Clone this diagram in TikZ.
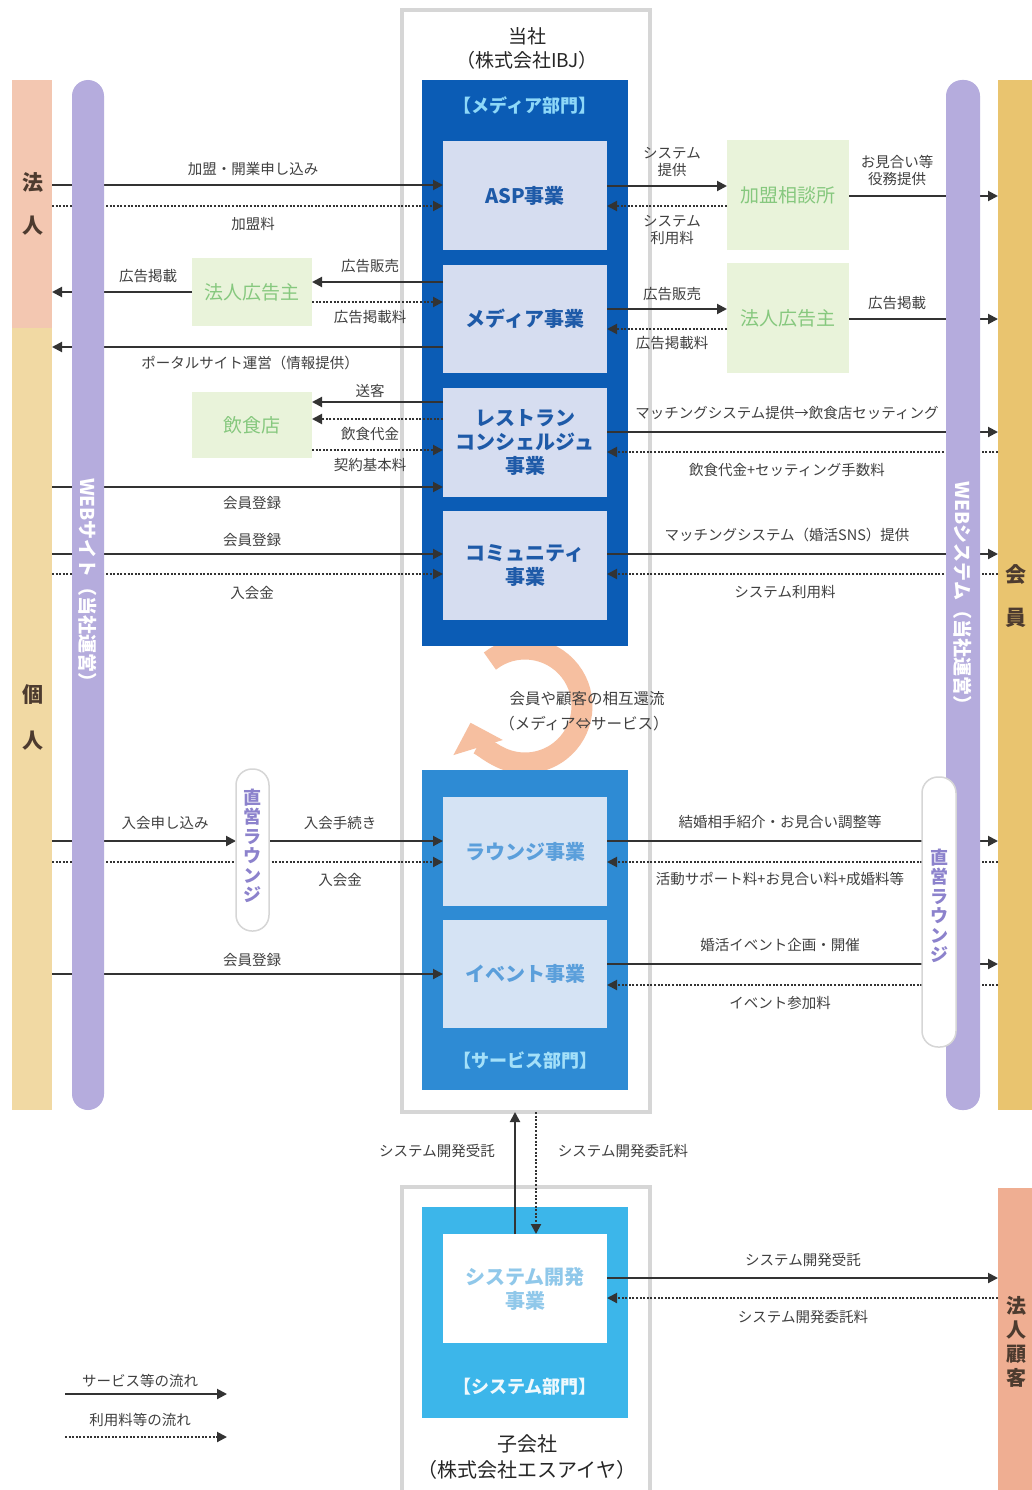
\documentclass[tikz,border=0pt]{standalone}
\usepackage{fontspec}
\setmainfont{Noto Sans CJK JP}
\usetikzlibrary{arrows.meta}
\definecolor{labc}{HTML}{404040}
\definecolor{linec}{HTML}{333333}
\definecolor{grayc}{HTML}{D6D6D6}
\definecolor{hojinc}{HTML}{F3C7B1}
\definecolor{kojinc}{HTML}{F1D9A3}
\definecolor{kaiinc}{HTML}{E9C46F}
\definecolor{kokyakuc}{HTML}{EFAE92}
\definecolor{lavc}{HTML}{B5ACDD}
\definecolor{mediac}{HTML}{0B5CB5}
\definecolor{innerc}{HTML}{D6DDF0}
\definecolor{innertxt}{HTML}{1E5AA8}
\definecolor{servc}{HTML}{2E8BD4}
\definecolor{innerc2}{HTML}{D5E3F4}
\definecolor{innertxt2}{HTML}{5B9FDB}
\definecolor{sysc}{HTML}{3CB6EA}
\definecolor{systxt}{HTML}{90C8EA}
\definecolor{greenbg}{HTML}{E9F3DA}
\definecolor{greentxt}{HTML}{86C87E}
\definecolor{ringc}{HTML}{F6BFA0}
\definecolor{deptlbl}{HTML}{8ED8F8}
\definecolor{pilltxt}{HTML}{8C82CC}
\definecolor{bandtxt}{HTML}{4D3B2F}
\pgfdeclarelayer{bg}
\pgfdeclarelayer{lines}
\pgfsetlayers{bg,lines,main}
\tikzset{
  lbl/.style={text=labc, font=\fontsize{14.5}{17}\selectfont, inner sep=0pt, align=center},
  flow/.style={draw=linec, line width=2pt, -{Triangle[length=10pt,width=10pt]}},
  fee/.style={flow, dash pattern=on 2pt off 1.6pt},
  plainbox/.style={rectangle, inner sep=0pt, outer sep=0pt},
  graybox/.style={plainbox, draw=grayc, line width=3.5pt, fill=white},
  innerbox/.style={plainbox, fill=innerc, text=innertxt, font=\fontsize{20}{24}\selectfont\bfseries, align=center},
  innerbox2/.style={plainbox, fill=innerc2, text=innertxt2, font=\fontsize{20}{24}\selectfont\bfseries, align=center},
  greenbox/.style={plainbox, fill=greenbg, text=greentxt, font=\fontsize{19}{22}\selectfont},
  deptlabel/.style={inner sep=0pt, font=\fontsize{18}{20}\selectfont\bfseries},
  bandchar/.style={inner sep=0pt, text=bandtxt, font=\fontsize{21}{24}\selectfont\bfseries},
  webbar/.style={plainbox, fill=lavc, rounded corners=16pt},
  webtxt/.style={inner sep=0pt, text=white, font=\fontsize{19}{20}\selectfont\bfseries, rotate=-90},
  pill/.style={plainbox, fill=white, draw=grayc, line width=1.5pt, rounded corners=16pt},
  pilltext/.style={inner sep=0pt, text=pilltxt, font=\fontsize{18}{19.5}\selectfont\bfseries, align=center},
  titletxt/.style={inner sep=0pt, text=black!85, font=\fontsize{19}{22}\selectfont}
}
\begin{document}
\begin{tikzpicture}[x=1pt,y=-1pt]
\useasboundingbox (0,0) rectangle (1032,1490);
\begin{pgfonlayer}{bg}
\fill[white] (0,0) rectangle (1032,1490);
% outer company boxes
\node[graybox, minimum width=248pt, minimum height=1102pt] (ibj) at (526,561) {};
\node[graybox, minimum width=248pt, minimum height=320pt] (sia) at (526,1347) {};
% circulation ring
\draw[ringc, line width=21pt, -{Triangle[length=26pt,width=50pt]}] (525,706) ++(128:57pt) arc[start angle=128, end angle=-163, radius=57pt];
% departments
\node[plainbox, fill=mediac, minimum width=206pt, minimum height=566pt] (media) at (525,363) {};
\node[innerbox, minimum width=164pt, minimum height=109pt] (asp) at (525,195.5) {ASP事業};
\node[innerbox, minimum width=164pt, minimum height=108pt] (mediabiz) at (525,319) {メディア事業};
\node[innerbox, minimum width=164pt, minimum height=109pt] (rest) at (525,442.5) {レストラン\\コンシェルジュ\\事業};
\node[innerbox, minimum width=164pt, minimum height=109pt] (comm) at (525,565.5) {コミュニティ\\事業};
\node[plainbox, fill=servc, minimum width=206pt, minimum height=320pt] (service) at (525,930) {};
\node[innerbox2, minimum width=164pt, minimum height=109pt] (lounge) at (525,851.5) {ラウンジ事業};
\node[innerbox2, minimum width=164pt, minimum height=108pt] (event) at (525,974) {イベント事業};
\node[plainbox, fill=sysc, minimum width=206pt, minimum height=211pt] (sysdept) at (525,1312.5) {};
\node[plainbox, fill=white, text=systxt, font=\fontsize{20}{24}\selectfont\bfseries, align=center, minimum width=164pt, minimum height=109pt] (sysdev) at (525,1288.5) {システム開発\\事業};
% partner boxes
\node[greenbox, minimum width=120pt, minimum height=68pt] (adL) at (252,292) {法人広告主};
\node[greenbox, minimum width=120pt, minimum height=66pt] (shop) at (252,425) {飲食店};
\node[greenbox, minimum width=122pt, minimum height=110pt] (kamei) at (788,195) {加盟相談所};
\node[greenbox, minimum width=122pt, minimum height=110pt] (adR) at (788,318) {法人広告主};
% bands
\node[plainbox, fill=hojinc, minimum width=40pt, minimum height=248pt] (bandHojin) at (32,204) {};
\node[plainbox, fill=kojinc, minimum width=40pt, minimum height=782pt] (bandKojin) at (32,719) {};
\node[plainbox, fill=kaiinc, minimum width=34pt, minimum height=1030pt] (bandKaiin) at (1015,595) {};
\node[plainbox, fill=kokyakuc, minimum width=34pt, minimum height=302pt] (bandKokyaku) at (1015,1339) {};
\end{pgfonlayer}

% titles
\node[titletxt] (tIbj1) at (527,36) {当社};
\node[titletxt] (tIbj2) at (527,60) {（株式会社IBJ）};
\node[titletxt, font=\fontsize{20}{22}\selectfont] (tSia1) at (527,1444) {子会社};
\node[titletxt, font=\fontsize{20}{22}\selectfont] (tSia2) at (527,1470) {（株式会社エスアイヤ）};
\node[deptlabel, text=deptlbl] (dMedia) at (525,105) {【メディア部門】};
\node[deptlabel, text=deptlbl!80!white] (dServ) at (525,1060) {【サービス部門】};
\node[deptlabel, text=white!92!sysc] (dSys) at (525,1387) {【システム部門】};

% band characters
\node[bandchar] (c1) at (33,183) {法};
\node[bandchar] (c2) at (33,226) {人};
\node[bandchar] (c3) at (33,695) {個};
\node[bandchar] (c4) at (33,741) {人};
\node[bandchar] (c5) at (1016,575) {会};
\node[bandchar] (c6) at (1016,618) {員};
\node[bandchar, font=\fontsize{20}{24}\selectfont\bfseries, align=center] (c7) at (1016,1342) {法\\人\\顧\\客};

% web bars and lounges
\node[webbar, minimum width=32pt, minimum height=1030pt] (webL) at (88,595) {};
\node[webtxt] (webLt) at (88,585) {WEBサイト（当社運営）};
\node[webbar, minimum width=34pt, minimum height=1030pt] (webR) at (963,595) {};
\node[webtxt] (webRt) at (963,598) {WEBシステム（当社運営）};
\node[pill, minimum width=33pt, minimum height=162pt] (pillL) at (252.5,850) {};
\node[pilltext] (pillLt) at (252.5,846) {直\\営\\ラ\\ウ\\ン\\ジ};
\node[pill, minimum width=34pt, minimum height=270pt] (pillR) at (939,912) {};
\node[pilltext] (pillRt) at (939,906) {直\\営\\ラ\\ウ\\ン\\ジ};

% ring text
\node[lbl, font=\fontsize{15.5}{17}\selectfont] (ringt1) at (587,699) {会員や顧客の相互還流};
\node[lbl, font=\fontsize{15.5}{17}\selectfont] (ringt2) at (584,724) {（メディア⇔サービス）};

% labels left
\node[lbl] (l1) at (253,169) {加盟・開業申し込み};
\node[lbl] (l2) at (253,224) {加盟料};
\node[lbl] (l3) at (370,266) {広告販売};
\node[lbl] (l4) at (148,276) {広告掲載};
\node[lbl] (l5) at (370,317) {広告掲載料};
\node[lbl] (l6) at (250,363) {ポータルサイト運営（情報提供）};
\node[lbl] (l7) at (370,391) {送客};
\node[lbl] (l8) at (370,434) {飲食代金};
\node[lbl] (l9) at (370,465) {契約基本料};
\node[lbl] (l10) at (252,503) {会員登録};
\node[lbl] (l11) at (252,540) {会員登録};
\node[lbl] (l12) at (252,593) {入会金};
\node[lbl] (l13) at (165,823) {入会申し込み};
\node[lbl] (l14) at (340,823) {入会手続き};
\node[lbl] (l15) at (340,880) {入会金};
\node[lbl] (l16) at (252,960) {会員登録};
% labels right
\node[lbl] (r1) at (672,162) {システム\\提供};
\node[lbl] (r2) at (672,230) {システム\\利用料};
\node[lbl] (r3) at (897,170) {お見合い等\\役務提供};
\node[lbl] (r4) at (672,294) {広告販売};
\node[lbl] (r5) at (672,343) {広告掲載料};
\node[lbl] (r6) at (897,303) {広告掲載};
\node[lbl] (r7) at (787,413) {マッチングシステム提供→飲食店セッティング};
\node[lbl] (r8) at (787,470) {飲食代金+セッティング手数料};
\node[lbl] (r9) at (787,535) {マッチングシステム（婚活SNS）提供};
\node[lbl] (r10) at (785,592) {システム利用料};
\node[lbl] (r11) at (780,822) {結婚相手紹介・お見合い調整等};
\node[lbl] (r12) at (780,879) {活動サポート料+お見合い料+成婚料等};
\node[lbl] (r13) at (780,945) {婚活イベント企画・開催};
\node[lbl] (r14) at (780,1003) {イベント参加料};
\node[lbl] (r15) at (803,1260) {システム開発受託};
\node[lbl] (r16) at (803,1317) {システム開発委託料};
\node[lbl] (v1) at (437,1151) {システム開発受託};
\node[lbl] (v2) at (623,1151) {システム開発委託料};
% legend
\node[lbl] (lg1) at (140,1381) {サービス等の流れ};
\node[lbl] (lg2) at (140,1420) {利用料等の流れ};
\coordinate (lg1a) at (65,1394);
\coordinate (lg1b) at (227,1394);
\coordinate (lg2a) at (65,1437);
\coordinate (lg2b) at (227,1437);

\begin{pgfonlayer}{lines}
% left side
\draw[flow] (bandHojin.east |- 0,185) -- (asp.west |- 0,185);
\draw[fee] (bandHojin.east |- 0,206) -- (asp.west |- 0,206);
\draw[flow] (mediabiz.west |- 0,282) -- (adL.east |- 0,282);
\draw[flow] (adL.west |- 0,292) -- (bandHojin.east |- 0,292);
\draw[fee] (adL.east |- 0,302) -- (mediabiz.west |- 0,302);
\draw[flow] (mediabiz.west |- 0,347) -- (bandKojin.east |- 0,347);
\draw[flow] (rest.west |- 0,402) -- (shop.east |- 0,402);
\draw[fee] (rest.west |- 0,419) -- (shop.east |- 0,419);
\draw[fee] (shop.east |- 0,450) -- (rest.west |- 0,450);
\draw[flow] (bandKojin.east |- 0,487) -- (rest.west |- 0,487);
\draw[flow] (bandKojin.east |- 0,554) -- (comm.west |- 0,554);
\draw[fee] (bandKojin.east |- 0,574) -- (comm.west |- 0,574);
\draw[flow] (bandKojin.east |- 0,841) -- (pillL.west |- 0,841);
\draw[flow] (pillL.east |- 0,841) -- (lounge.west |- 0,841);
\draw[fee] (bandKojin.east |- 0,862) -- (lounge.west |- 0,862);
\draw[flow] (bandKojin.east |- 0,974) -- (event.west |- 0,974);
% right side
\draw[flow] (asp.east |- 0,186) -- (kamei.west |- 0,186);
\draw[fee] (kamei.west |- 0,206) -- (asp.east |- 0,206);
\draw[flow] (kamei.east |- 0,196) -- (bandKaiin.west |- 0,196);
\draw[flow] (mediabiz.east |- 0,309) -- (adR.west |- 0,309);
\draw[fee] (adR.west |- 0,329) -- (mediabiz.east |- 0,329);
\draw[flow] (adR.east |- 0,319) -- (bandKaiin.west |- 0,319);
\draw[flow] (rest.east |- 0,432) -- (bandKaiin.west |- 0,432);
\draw[fee] (bandKaiin.west |- 0,452) -- (rest.east |- 0,452);
\draw[flow] (comm.east |- 0,554) -- (bandKaiin.west |- 0,554);
\draw[fee] (bandKaiin.west |- 0,574) -- (comm.east |- 0,574);
\draw[flow] (lounge.east |- 0,841) -- (bandKaiin.west |- 0,841);
\draw[fee] (bandKaiin.west |- 0,862) -- (lounge.east |- 0,862);
\draw[flow] (event.east |- 0,964) -- (bandKaiin.west |- 0,964);
\draw[fee] (bandKaiin.west |- 0,985) -- (event.east |- 0,985);
\draw[flow] (sysdev.east |- 0,1278) -- (bandKokyaku.west |- 0,1278);
\draw[fee] (bandKokyaku.west |- 0,1298) -- (sysdev.east |- 0,1298);
% vertical between companies
\draw[flow] (515,0 |- sysdev.north) -- (515,0 |- ibj.south);
\draw[fee] (536,0 |- ibj.south) -- (536,0 |- sysdev.north);
% legend
\draw[flow] (lg1a) -- (lg1b);
\draw[fee] (lg2a) -- (lg2b);
\end{pgfonlayer}
\end{tikzpicture}
\end{document}
